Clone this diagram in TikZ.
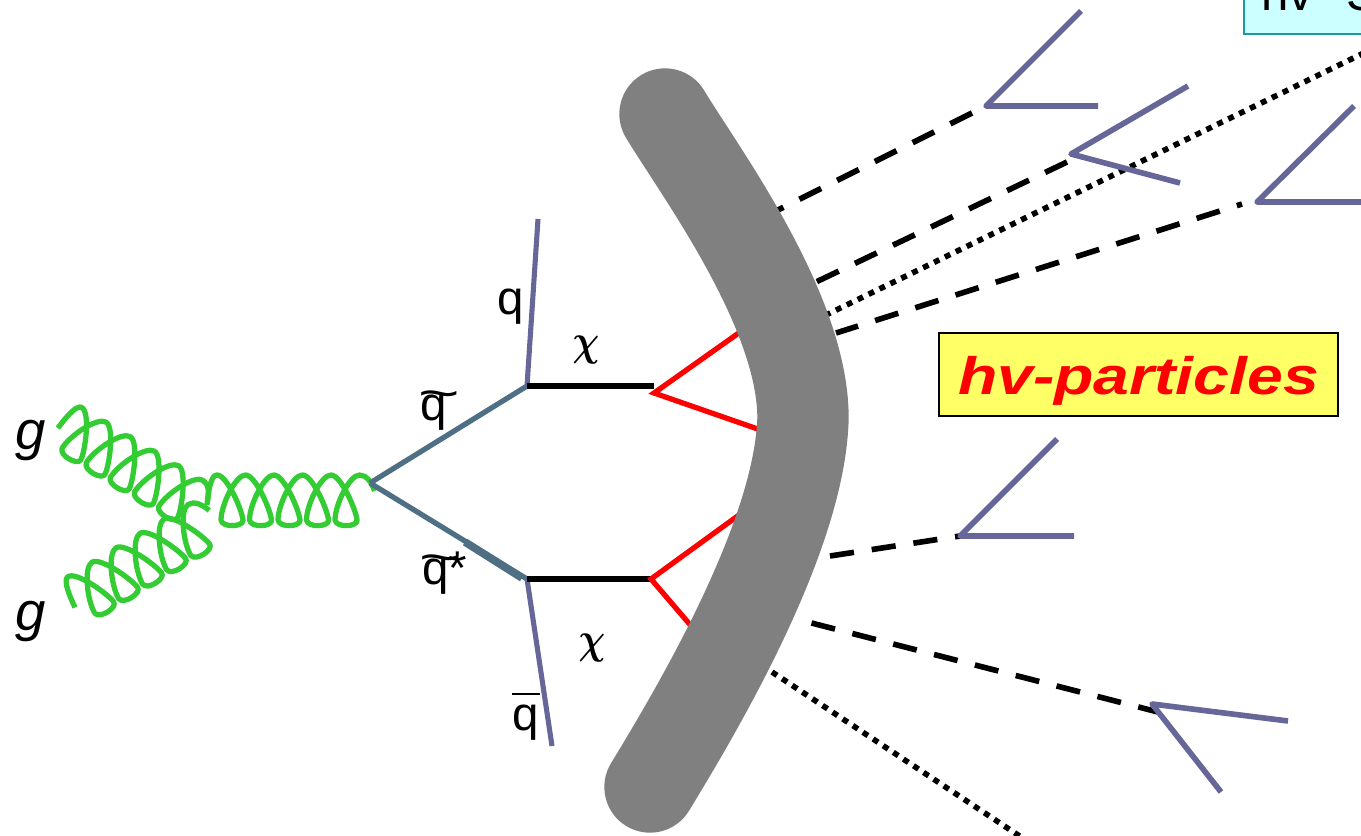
\documentclass[tikz,border=0pt]{standalone}
\usepackage{fontspec}
\setmainfont{Liberation Sans}
\usetikzlibrary{calc}
\definecolor{jetblue}{HTML}{666699}
\definecolor{squarkblue}{HTML}{4F6F85}
\definecolor{gluongreen}{HTML}{33CC33}
\definecolor{hvyellow}{HTML}{FFFF66}
\definecolor{hvcyan}{HTML}{CCFFFF}
\definecolor{hvteal}{HTML}{1A9A9A}
\tikzset{
    gluonline/.style={draw=gluongreen, line width=3pt, line join=round},
    jetline/.style={draw=jetblue, line width=3.2pt, line join=round},
    squark/.style={draw=squarkblue, line width=3pt},
    chiline/.style={draw=black, line width=3pt},
    redline/.style={draw=red, line width=3pt, line join=miter},
    hvdash/.style={draw=black, line width=3.2pt, dash pattern=on 13.8pt off 10.2pt},
    hvdot/.style={draw=black, line width=3.2pt, dash pattern=on 3.4pt off 3.5pt},
    lbl/.style={font=\fontsize{27}{30}\selectfont, inner sep=0pt, anchor=base}
}
% #1 origin, #2 angle, #3 spacing of the five loops
\newcommand{\gluoncoil}[3]{
    \draw[gluonline, shift={#1}, rotate=#2] (-10,5) .. controls (-8,-15) and (-5,-25) .. (0,-25)
        \foreach \n in {0,...,4} {
            .. controls ($(\n*#3+10,-25)$) and ($(\n*#3+25,10)$) .. ($(\n*#3+26,20)$)
            .. controls ($(\n*#3+27,27)$) and ($(\n*#3+5,28)$) .. ($(\n*#3+4,20)$)
            .. controls ($(\n*#3+4,5)$) and ($(\n*#3+#3-10,-25)$) .. ($(\n*#3+#3,-25)$)
        }
        .. controls ($(5*#3+7,-25)$) and ($(5*#3+12,-18)$) .. ($(5*#3+15,-9)$);
}
\newcommand{\sqtilde}{\makebox[0pt][l]{\hspace{-1.5pt}\raisebox{6pt}{\scalebox{1.5}[1]{\~{}}}}q}
\newcommand{\qbarlabel}{\makebox[0pt][l]{\hspace{-0.7pt}\rule[20pt]{16.4pt}{1.3pt}}q}
\newcommand{\chilabel}{\scalebox{0.85}[1]{\fontsize{31}{33}\selectfont\boldmath$\chi$}}
\begin{document}
\begin{tikzpicture}[x=0.02cm, y=-0.02cm]
    \useasboundingbox (0,0) rectangle (1361,835);
    \clip (0,0) rectangle (1361,835);
    \coordinate (vtx) at (370,483);
    \coordinate (topv) at (527,386);
    \coordinate (botv) at (527,579);
    \coordinate (qtop) at (538,219);
    \coordinate (qbot) at (552,746);
    \coordinate (chitop) at (654,393);
    \coordinate (chibot) at (651,579);

    \gluoncoil{(69,429)}{-31}{28.2}
    \gluoncoil{(81,598)}{31}{28}
    \gluoncoil{(217,500)}{0}{28.5}

    \draw[squark] (vtx) -- (topv);
    \draw[squark] (vtx) -- (botv);
    \draw[squark, line width=4.4pt] (465,542) -- (522,578);
    \draw[jetline, line width=2.9pt] (topv) -- (qtop);
    \draw[jetline, line width=2.9pt] (botv) -- (qbot);
    \draw[chiline] (topv) -- (chitop |- topv);
    \draw[chiline] (botv) -- (chibot);

    \coordinate (ra) at (750,325);
    \coordinate (rb) at (775,435);
    \coordinate (rc) at (750,507);
    \coordinate (rd) at (710,648);
    \draw[redline] (ra) -- (chitop) -- (rb);
    \draw[redline] (rc) -- (chibot) -- (rd);

    % dashed and dotted lines run under the jets
    \coordinate (jonev) at (986,106);
    \coordinate (jtwov) at (1071,154);
    \coordinate (jthreev) at (1257,202);
    \coordinate (jfourv) at (960,536);
    \coordinate (jfivev) at (1152,704);
    \draw[hvdash] (972,113) -- (778,210);
    \draw[hvdash] (1067,162) -- (816,282);
    \draw[hvdash, dash phase=10.7pt] (1242,204) -- (836,333);
    \draw[hvdash] (830,556) -- (jfourv);
    \draw[hvdash] (811.5,623) -- (1158,712);
    \draw[hvdot] (825,315.5) -- (1372,49);
    \draw[hvdot] (772,672) -- (1024,839);

    \draw[jetline] (1081,11) -- (jonev) -- (1098,106);
    \draw[jetline] (1188,86) -- (jtwov) -- (1180,183);
    \draw[jetline] (1354,106) -- (jthreev) -- (1380,202);
    \draw[jetline] (1057,439) -- (jfourv) -- (1074,536);
    \draw[jetline] (1288,721) -- (jfivev) -- (1221,792);

    % thick band
    \draw[draw=gray, line width=52pt, line cap=round]
        (665,114) .. controls (700,172) and (803,310) .. (803,418)
        .. controls (800,535) and (700,705) .. (650,787);

    \node[lbl] (qlabel) at (511,314) {q};
    \node[lbl] (sqlabel) at (434,420) {\sqtilde};
    \node[lbl, anchor=base west] (sqstar) at (422,584) {\sqtilde*};
    \node[lbl] (qbar) at (526,730) {\qbarlabel};
    \node[inner sep=0pt] (chiupper) at (586,350) {\chilabel};
    \node[inner sep=0pt] (chilower) at (592,648) {\chilabel};
    \node[lbl, font=\fontsize{31}{33}\selectfont\itshape] (gupper) at (31,449) {g};
    \node[lbl, font=\fontsize{31}{33}\selectfont\itshape] (glower) at (31,630) {g};

    \node[draw=black, line width=1.2pt, fill=hvyellow, text=red, anchor=north west,
          minimum width=227pt, minimum height=47pt, inner sep=0pt,
          font=\fontsize{30}{32}\selectfont\bfseries\itshape] (hvparticles) at (938,332)
          {\raisebox{-11.3pt}[0pt][0pt]{\scalebox{1.22}[1]{hv-particles}}};
    \node[draw=hvteal, line width=1.2pt, fill=hvcyan, anchor=south west, align=left,
          text width=110pt, inner xsep=10pt, inner ysep=13pt,
          font=\fontsize{28}{30}\selectfont] (hvbox) at (1243,35) {hv\ \ S};
\end{tikzpicture}
\end{document}
